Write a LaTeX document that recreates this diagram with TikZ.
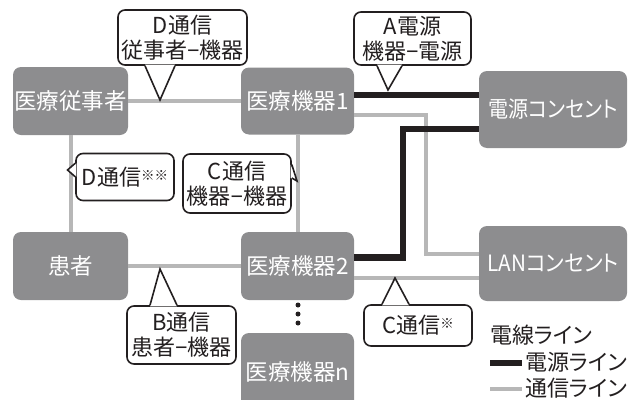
\documentclass[tikz,border=0pt]{standalone}
\usepackage{graphicx}
\usepackage{fontspec}
\setmainfont{Noto Sans CJK JP}[RawFeature={+palt}]
\newfontfamily\latinf{Noto Sans}
\usetikzlibrary{calc}
\definecolor{boxgray}{RGB}{141,141,143}
\definecolor{linegray}{RGB}{183,183,183}
\definecolor{inkblack}{RGB}{35,31,32}
\tikzset{
  box/.style={fill=boxgray, rounded corners=8pt, text=white, inner sep=0pt,
    font=\fontsize{22.5}{22.5}\selectfont},
  bubble/.style={draw=inkblack, fill=white, line width=1.6pt, rounded corners=7pt,
    align=center, inner sep=0pt, text=inkblack, font=\fontsize{22}{25}\selectfont},
  tailfill/.style={fill=white},
  tailline/.style={draw=inkblack, line width=1.6pt, line join=miter, line cap=butt},
  gline/.style={draw=linegray, line width=4pt},
  bline/.style={draw=inkblack, line width=6.5pt},
  legtext/.style={anchor=west, inner sep=0pt, text=inkblack, font=\fontsize{22}{22}\selectfont},
  dot/.style={circle, fill=inkblack, inner sep=0pt, minimum size=5pt}
}
\newcommand{\kome}{\raisebox{0.22em}{\fontsize{13.5}{13.5}\selectfont ※}}
\newcommand{\mns}{{\latinf −}}
\begin{document}
\begin{tikzpicture}[x=1pt,y=-1pt]
\useasboundingbox (0,0) rectangle (637,399);
% line bends
\coordinate (b1a) at (354,95);
\coordinate (g1a) at (354,115.3);
\coordinate (g1b) at (426,115.3);
\coordinate (g1c) at (426,254.3);
\coordinate (b2a) at (479,129);
\coordinate (b2b) at (403,129);
\coordinate (b2c) at (403,257.5);
\coordinate (g2a) at (354,277.7);
% boxes
\node[box, minimum width=115pt, minimum height=68pt] (nurse) at (70.5,101) {医療従事者};
\node[box, minimum width=113pt, minimum height=67pt] (dev1) at (297.5,101) {医療機器1};
\node[box, minimum width=148pt, minimum height=77pt] (power) at (553,109.5) {\scalebox{0.89}[1]{電源コンセント}};
\node[box, minimum width=115pt, minimum height=68pt] (patient) at (70.5,266) {患者};
\node[box, minimum width=113pt, minimum height=68pt] (dev2) at (297.5,266) {医療機器2};
\node[box, minimum width=148pt, minimum height=75pt] (lan) at (553,263.5) {\scalebox{0.92}[1]{LANコンセント}};
\node[box, minimum width=113pt, minimum height=78pt] (devn) at (297.5,372) {医療機器n};
% connectors
\draw[gline] (nurse.east) -- (dev1.west);
\draw[gline] (nurse.south) -- (patient.north);
\draw[gline] (dev1.south) -- (dev2.north);
\draw[gline] (patient.east) -- (dev2.west);
\draw[bline] (b1a) -- (b1a -| power.west);
\draw[gline] (g1a) -- (g1b) -- (g1c) -- (g1c -| lan.west);
\draw[bline] (b2a) -- (b2b) -- (b2c) -- (b2c -| dev2.east);
\draw[gline] (g2a) -- (g2a -| lan.west);
% dots
\node[dot] (d1) at (298,305) {};
\node[dot] (d2) at (298,314) {};
\node[dot] (d3) at (298,323) {};
% callouts
\node[bubble, minimum width=129pt, minimum height=55pt] (cD1) at (182.5,37.5) {D通信\\従事者\mns 機器};
\coordinate (tD1) at (160,100);
\fill[tailfill] ($(cD1.south)+(-37.5,-1.2)$) -- (tD1) -- ($(cD1.south)+(-7.5,-1.2)$) -- cycle;
\draw[tailline] ($(cD1.south)+(-37.5,0)$) -- (tD1) -- ($(cD1.south)+(-7.5,0)$);

\node[bubble, minimum width=117pt, minimum height=53pt] (cA) at (412.5,38.5) {A電源\\機器\mns 電源};
\coordinate (tA) at (388,90);
\fill[tailfill] ($(cA.south)+(-35.5,-1.2)$) -- (tA) -- ($(cA.south)+(-10.5,-1.2)$) -- cycle;
\draw[tailline] ($(cA.south)+(-35.5,0)$) -- (tA) -- ($(cA.south)+(-10.5,0)$);

\node[bubble, minimum width=98pt, minimum height=47pt] (cDD) at (125,177) {D通信\kome\kome};
\coordinate (tDD) at (67.5,170);
\fill[tailfill] ($(cDD.west)+(1.2,-13.7)$) -- (tDD) -- ($(cDD.west)+(1.2,-0.3)$) -- cycle;
\draw[tailline] ($(cDD.west)+(0,-13.7)$) -- (tDD) -- ($(cDD.west)+(0,-0.3)$);

\node[bubble, minimum width=108pt, minimum height=59pt] (cC1) at (237,183.5) {C通信\\機器\mns 機器};
\coordinate (tC1) at (297,181);
\fill[tailfill] ($(cC1.east)+(-1.2,-19)$) -- (tC1) -- ($(cC1.east)+(-1.2,-5.5)$) -- cycle;
\draw[tailline] ($(cC1.east)+(0,-19)$) -- (tC1) -- ($(cC1.east)+(0,-5.5)$);

\node[bubble, minimum width=109pt, minimum height=58pt] (cB) at (181.5,335) {B通信\\患者\mns 機器};
\coordinate (tB) at (160,269);
\fill[tailfill] ($(cB.north)+(-31.5,1.2)$) -- (tB) -- ($(cB.north)+(-4.5,1.2)$) -- cycle;
\draw[tailline] ($(cB.north)+(-31.5,0)$) -- (tB) -- ($(cB.north)+(-4.5,0)$);

\node[bubble, minimum width=108pt, minimum height=41pt] (cC2) at (418,325.5) {C通信\kome};
\coordinate (tC2) at (395,278);
\fill[tailfill] ($(cC2.north)+(-36,1.2)$) -- (tC2) -- ($(cC2.north)+(-9,1.2)$) -- cycle;
\draw[tailline] ($(cC2.north)+(-36,0)$) -- (tC2) -- ($(cC2.north)+(-9,0)$);

% legend
\node[legtext] (lgT) at (490,335) {電線ライン};
\coordinate (lp1) at (490,362.5);
\coordinate (lp2) at (522,362.5);
\draw[bline, line width=6pt] (lp1) -- (lp2);
\node[legtext] (lgP) at (525,362) {電源ライン};
\coordinate (lc1) at (490,388.5);
\coordinate (lc2) at (522,388.5);
\draw[gline] (lc1) -- (lc2);
\node[legtext] (lgC) at (525,388) {通信ライン};
\end{tikzpicture}
\end{document}
